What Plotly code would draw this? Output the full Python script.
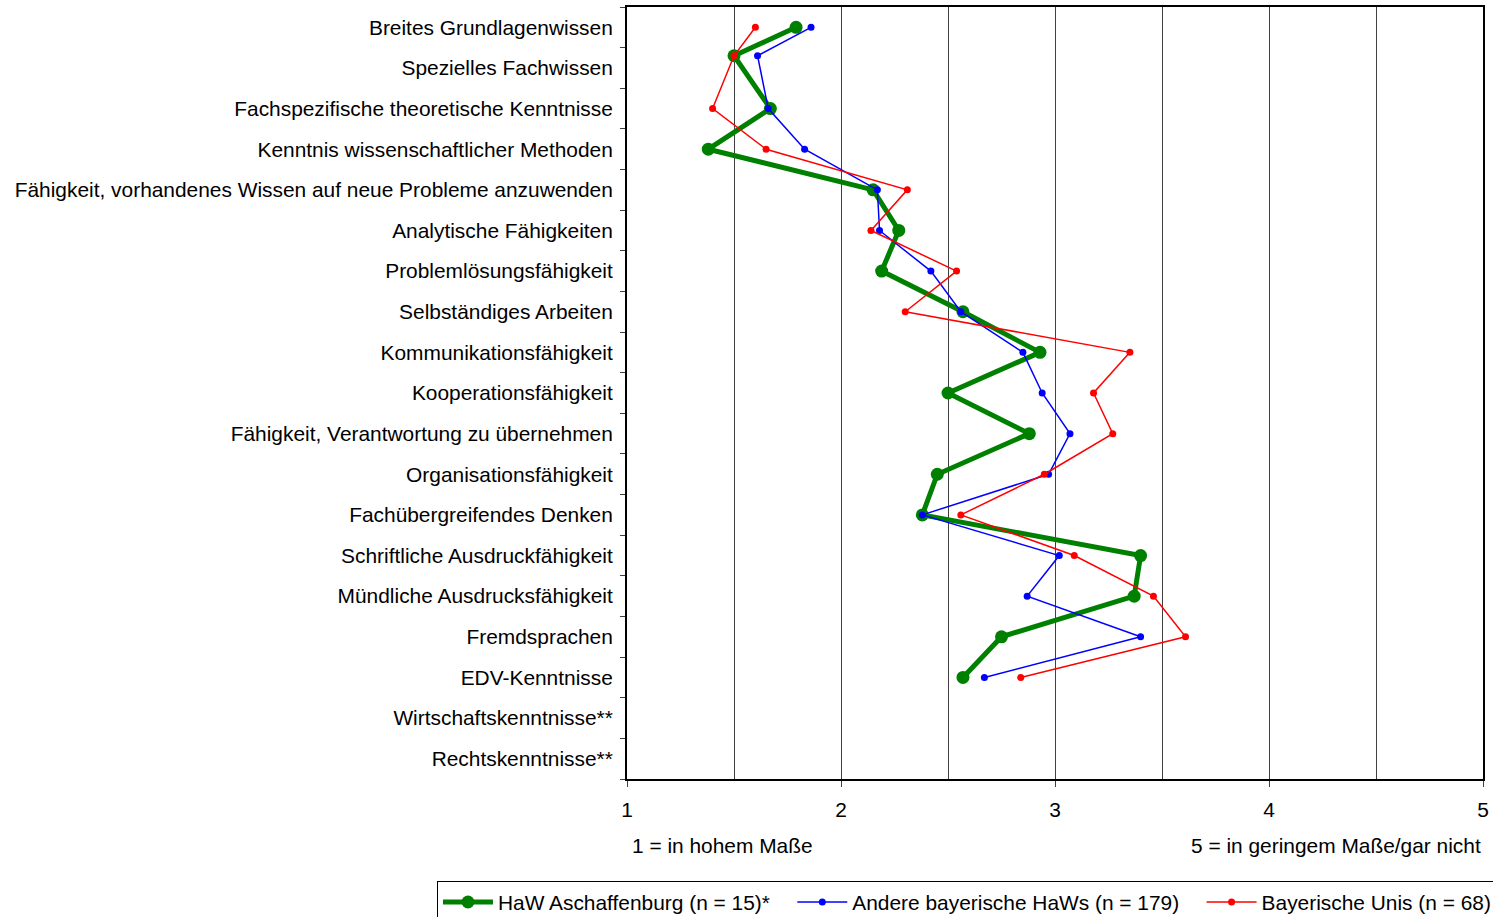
import plotly.graph_objects as go

categories = [
    "Breites Grundlagenwissen",
    "Spezielles Fachwissen",
    "Fachspezifische theoretische Kenntnisse",
    "Kenntnis wissenschaftlicher Methoden",
    "Fähigkeit, vorhandenes Wissen auf neue Probleme anzuwenden",
    "Analytische Fähigkeiten",
    "Problemlösungsfähigkeit",
    "Selbständiges Arbeiten",
    "Kommunikationsfähigkeit",
    "Kooperationsfähigkeit",
    "Fähigkeit, Verantwortung zu übernehmen",
    "Organisationsfähigkeit",
    "Fachübergreifendes Denken",
    "Schriftliche Ausdruckfähigkeit",
    "Mündliche Ausdrucksfähigkeit",
    "Fremdsprachen",
    "EDV-Kenntnisse",
    "Wirtschaftskenntnisse**",
    "Rechtskenntnisse**",
]

# vertical position of each item (XY chart y-values of the original)
item_pos = [1, 1.7, 3, 4, 5, 6, 7, 8, 9, 10, 11, 12, 13, 14, 15, 16, 17, 18, 19]

haw_asch = [1.79, 1.50, 1.67, 1.38, 2.15, 2.27, 2.19, 2.57, 2.93, 2.50, 2.88, 2.45, 2.38, 3.40, 3.37, 2.75, 2.57, None, None]
andere_haw = [1.86, 1.61, 1.66, 1.83, 2.17, 2.18, 2.42, 2.56, 2.85, 2.94, 3.07, 2.97, 2.38, 3.02, 2.87, 3.40, 2.67, None, None]
bay_unis = [1.60, 1.50, 1.40, 1.65, 2.31, 2.14, 2.54, 2.30, 3.35, 3.18, 3.27, 2.95, 2.56, 3.09, 3.46, 3.61, 2.84, None, None]

x_ticks = [1, 2, 3, 4, 5]
series_names = ["HaW Aschaffenburg (n = 15)*", "Andere bayerische HaWs (n = 179)", "Bayerische Unis (n = 68)"]

FONT = "Liberation Sans, Arial, sans-serif"
FS = 20.9
PAD = "\u00a0\u00a0\u00a0"

fig = go.Figure()
fig.add_trace(go.Scatter(
    x=haw_asch, y=item_pos, name=series_names[0] + PAD, mode="lines+markers",
    line=dict(color="#008000", width=5), marker=dict(color="#008000", size=13),
))
fig.add_trace(go.Scatter(
    x=andere_haw, y=item_pos, name=series_names[1] + PAD, mode="lines+markers",
    line=dict(color="#0000FF", width=1.5), marker=dict(color="#0000FF", size=7),
))
fig.add_trace(go.Scatter(
    x=bay_unis, y=item_pos, name=series_names[2], mode="lines+markers",
    line=dict(color="#FF0000", width=1.5), marker=dict(color="#FF0000", size=7),
))

fig.update_layout(
    width=1493, height=917,
    margin=dict(l=627, r=10, t=7, b=138, autoexpand=False),
    plot_bgcolor="white", paper_bgcolor="white",
    font=dict(family=FONT, size=FS, color="black"),
    showlegend=True,
    legend=dict(
        orientation="h", x=-0.222, xanchor="left", y=-0.132, yanchor="top",
        bordercolor="black", borderwidth=1, font=dict(size=FS),
        itemwidth=50, tracegroupgap=0,
    ),
    xaxis=dict(
        range=[1, 5], tickvals=x_ticks, ticktext=[str(v) for v in x_ticks],
        showgrid=True, gridcolor="#404040", gridwidth=1,
        showline=True, linecolor="black", linewidth=2, mirror=True,
        ticks="outside", ticklen=6, tickcolor="#404040",
        ticklabelstandoff=5, zeroline=False,
        minor=dict(tickvals=[1.5, 2.5, 3.5, 4.5], showgrid=True, gridcolor="#404040", gridwidth=1, ticks=""),
        fixedrange=True,
    ),
    yaxis=dict(
        range=[19.5, 0.5], tickvals=list(range(1, 20)), ticktext=categories,
        showgrid=False, zeroline=False,
        showline=True, linecolor="black", linewidth=2, mirror=True,
        ticks="", ticklabelstandoff=8,
        minor=dict(tickvals=[i + 0.5 for i in range(0, 20)], ticks="outside", ticklen=5, tickcolor="#404040", showgrid=False),
        fixedrange=True,
    ),
    annotations=[
        dict(text="1 = in hohem Maße", xref="paper", yref="paper", x=0.003, y=-0.0855,
             xanchor="left", yanchor="middle", showarrow=False, font=dict(size=FS)),
        dict(text="5 = in geringem Maße/gar nicht", xref="paper", yref="paper", x=1.0, y=-0.0855,
             xanchor="right", yanchor="middle", showarrow=False, font=dict(size=FS)),
    ],
)

fig.write_html("out.html", config={"displayModeBar": False},
               post_script="document.body.style.margin='0';")
